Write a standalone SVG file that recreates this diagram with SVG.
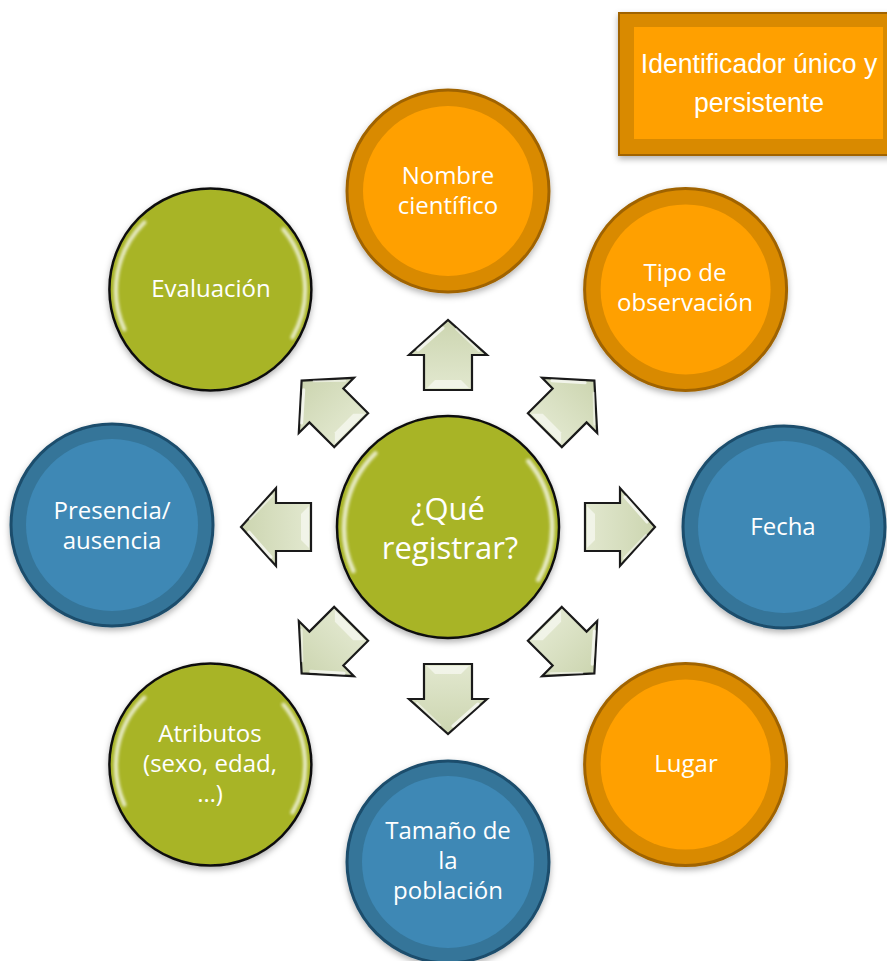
<svg xmlns="http://www.w3.org/2000/svg" width="887" height="961" viewBox="0 0 887 961">
<defs>
<style>
.t{font-family:"Open Sans","Noto Sans","DejaVu Sans",sans-serif;font-size:24px;fill:#ffffff;text-anchor:middle}
.tc{font-family:"Open Sans","Noto Sans","DejaVu Sans",sans-serif;font-size:31px;fill:#ffffff;text-anchor:middle}
.tr{font-family:"Liberation Sans",Arial,sans-serif;font-size:28px;fill:#ffffff;text-anchor:middle}
.oRing{fill:#D98A00;stroke:#A06400;stroke-width:3}
.oIn{fill:#FFA000}
.bRing{fill:#347599;stroke:#1C4D6C;stroke-width:3}
.bIn{fill:#3E88B5}
.g{fill:#A8B428;stroke:#111;stroke-width:2.5}
.gloss{fill:none;stroke:#ffffff;stroke-width:4;stroke-linecap:round;opacity:0.75}
.arr{fill:url(#arrGrad);stroke:#1a1a1a;stroke-width:2.2;stroke-linejoin:miter}
</style>
<filter id="sh" x="-20%" y="-20%" width="140%" height="140%">
<feDropShadow dx="0" dy="3" stdDeviation="3" flood-color="#000" flood-opacity="0.3"/>
</filter>
<filter id="bl" x="-20%" y="-20%" width="140%" height="140%">
<feGaussianBlur stdDeviation="1.6"/>
</filter>
<linearGradient id="arrGrad" x1="0" y1="0" x2="1" y2="0">
<stop offset="0" stop-color="#E2E8CF"/>
<stop offset="1" stop-color="#CCD5B0"/>
</linearGradient>
<g id="arrow">
<path class="arr" d="M137,-24 L172,-24 L172,-39 L207,0 L172,39 L172,24 L137,24 Z"/>
<path d="M139,-21 L147,-13 L147,13 L139,21 Z" fill="#ffffff" opacity="0.55"/>
<path d="M177,-30 L199,-5" stroke="#ffffff" stroke-width="3" opacity="0.7" stroke-linecap="round"/>
<path d="M176,31 L198,8" stroke="#ffffff" stroke-width="2" opacity="0.5" stroke-linecap="round"/>
</g>
<g id="gl">
<path class="gloss" filter="url(#bl)" d="M-66,-67 A95,95 0 0 0 -86,40"/>
<path class="gloss" filter="url(#bl)" d="M73,-60 A95,95 0 0 1 82,48"/>
</g>
</defs>
<rect width="887" height="961" fill="#ffffff"/>

<g id="connectors">
<use href="#arrow" transform="translate(448 527) rotate(0)"/>
<use href="#arrow" transform="translate(448 527) rotate(45)"/>
<use href="#arrow" transform="translate(448 527) rotate(90)"/>
<use href="#arrow" transform="translate(448 527) rotate(135)"/>
<use href="#arrow" transform="translate(448 527) rotate(180)"/>
<use href="#arrow" transform="translate(448 527) rotate(225)"/>
<use href="#arrow" transform="translate(448 527) rotate(270)"/>
<use href="#arrow" transform="translate(448 527) rotate(315)"/>
</g>

<g id="identificador">
<rect x="619" y="13" width="280" height="142" fill="#D98A00" stroke="#A06400" stroke-width="2" filter="url(#sh)"/>
<rect x="634" y="27" width="249" height="112" fill="#FFA000"/>
<g transform="translate(759 0) scale(0.95 1)">
<text class="tr" x="0" y="73">Identificador único y</text>
<text class="tr" x="0" y="112">persistente</text>
</g>
</g>

<g id="centro">
<circle class="g" cx="448" cy="527" r="111" filter="url(#sh)"/>
<use href="#gl" transform="translate(448 527) scale(1.1)"/>
<text class="tc" x="448" y="520">¿Qué</text>
<text class="tc" x="450" y="559">registrar?</text>
</g>

<g id="nombre">
<circle class="oRing" cx="448" cy="191" r="101" filter="url(#sh)"/>
<circle class="oIn" cx="448" cy="191" r="85"/>
<text class="t" x="448" y="184">Nombre</text>
<text class="t" x="448" y="214">científico</text>
</g>

<g id="tipo">
<circle class="oRing" cx="685.6" cy="289.4" r="101" filter="url(#sh)"/>
<circle class="oIn" cx="685.6" cy="289.4" r="85"/>
<text class="t" x="685" y="281">Tipo de</text>
<text class="t" x="685" y="311">observación</text>
</g>

<g id="fecha">
<circle class="bRing" cx="784" cy="527" r="101" filter="url(#sh)"/>
<circle class="bIn" cx="784" cy="527" r="86"/>
<text class="t" x="783" y="535">Fecha</text>
</g>

<g id="lugar">
<circle class="oRing" cx="685.6" cy="764.6" r="101" filter="url(#sh)"/>
<circle class="oIn" cx="685.6" cy="764.6" r="85"/>
<text class="t" x="686" y="772">Lugar</text>
</g>

<g id="tamano">
<circle class="bRing" cx="448" cy="862" r="101" filter="url(#sh)"/>
<circle class="bIn" cx="448" cy="862" r="86"/>
<text class="t" x="448" y="839">Tamaño de</text>
<text class="t" x="448" y="869">la</text>
<text class="t" x="448" y="899">población</text>
</g>

<g id="atributos">
<circle class="g" cx="210.4" cy="764.6" r="101" filter="url(#sh)"/>
<use href="#gl" transform="translate(210.4 764.6)"/>
<text class="t" x="210" y="742">Atributos</text>
<text class="t" x="210" y="772">(sexo, edad,</text>
<text class="t" x="210" y="802">…)</text>
</g>

<g id="presencia">
<circle class="bRing" cx="112" cy="525" r="101" filter="url(#sh)"/>
<circle class="bIn" cx="112" cy="525" r="86"/>
<text class="t" x="112" y="519">Presencia/</text>
<text class="t" x="112" y="549">ausencia</text>
</g>

<g id="evaluacion">
<circle class="g" cx="210.4" cy="289.4" r="101" filter="url(#sh)"/>
<use href="#gl" transform="translate(210.4 289.4)"/>
<text class="t" x="211" y="297">Evaluación</text>
</g>
</svg>
